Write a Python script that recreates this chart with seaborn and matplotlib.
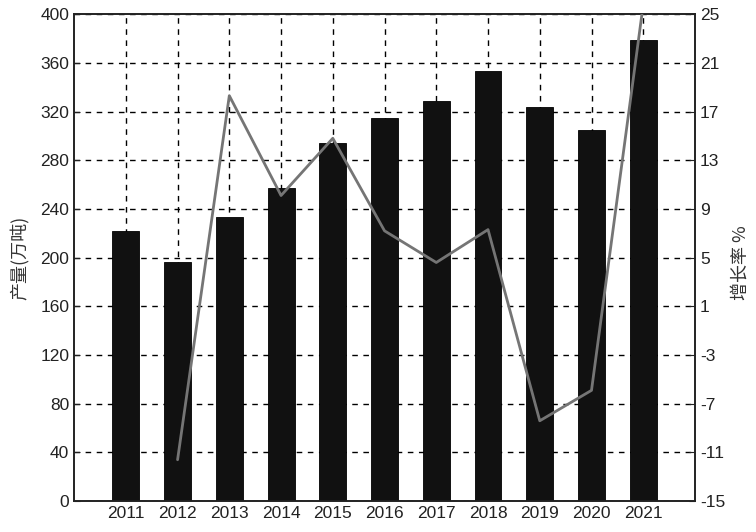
import numpy as np
import pandas as pd
import matplotlib
matplotlib.use("Agg")
import matplotlib.pyplot as plt
import seaborn as sns

# data
years = ["2011", "2012", "2013", "2014", "2015", "2016", "2017", "2018", "2019", "2020", "2021"]
output = [222, 196, 233, 257, 294, 315, 329, 353, 324, 305, 379]      # 产量(万吨)
growth = [np.nan, -11.6, 18.3, 10.1, 14.8, 7.2, 4.6, 7.3, -8.4, -5.9, 25.8]  # 增长率 %

sns.set_style("ticks")
plt.rcParams['font.family'] = ['Liberation Sans Narrow', 'Liberation Sans', 'Noto Sans CJK SC', 'DejaVu Sans']
plt.rcParams['axes.unicode_minus'] = False

fig = plt.figure(figsize=(7.56, 5.32), dpi=100)
ax = fig.add_axes([0.098, 0.058, 0.8213, 0.9155])

df = pd.DataFrame({"year": years, "output": output, "growth": growth})

sns.barplot(data=df, x="year", y="output", color="#111111", edgecolor="black",
            linewidth=0.6, width=0.52, saturation=1, ax=ax, zorder=3)
ax.set_xlim(-1, len(years))
ax.set_ylim(0, 400)
ax.set_yticks(np.arange(0, 401, 40))
ax.set_xlabel("")
ax.set_ylabel("产量(万吨)", family=['Noto Sans CJK SC'], fontsize=13, color="#333333",
              va="center")
ax.yaxis.set_label_coords(-0.087, 0.5)
ax.grid(True, color="black", linestyle=(0, (4, 4)), linewidth=1.0, zorder=0)
ax.set_axisbelow(True)
ax.tick_params(direction="in", labelsize=12.5, length=4, colors="#222222")

# growth line on the right axis
ax2 = ax.twinx()
sns.lineplot(x=np.arange(len(years)), y=df["growth"], color="#757575", linewidth=2,
             ax=ax2, zorder=5)
ax2.set_ylim(-15, 25)
ax2.set_yticks(np.arange(-15, 26, 4))
ax2.set_ylabel("增长率 %", family=['Noto Sans CJK SC', 'DejaVu Sans'], fontsize=13,
               color="#333333", rotation=90, va="center")
ax2.yaxis.set_label_coords(1.074, 0.49)
ax2.tick_params(direction="in", labelsize=12.5, length=4, colors="#222222")
ax2.grid(False)

for a in (ax, ax2):
    for s in a.spines.values():
        s.set_visible(True)
        s.set_color("#222222")
        s.set_linewidth(1.2)

fig.savefig("out.png", dpi=100)
